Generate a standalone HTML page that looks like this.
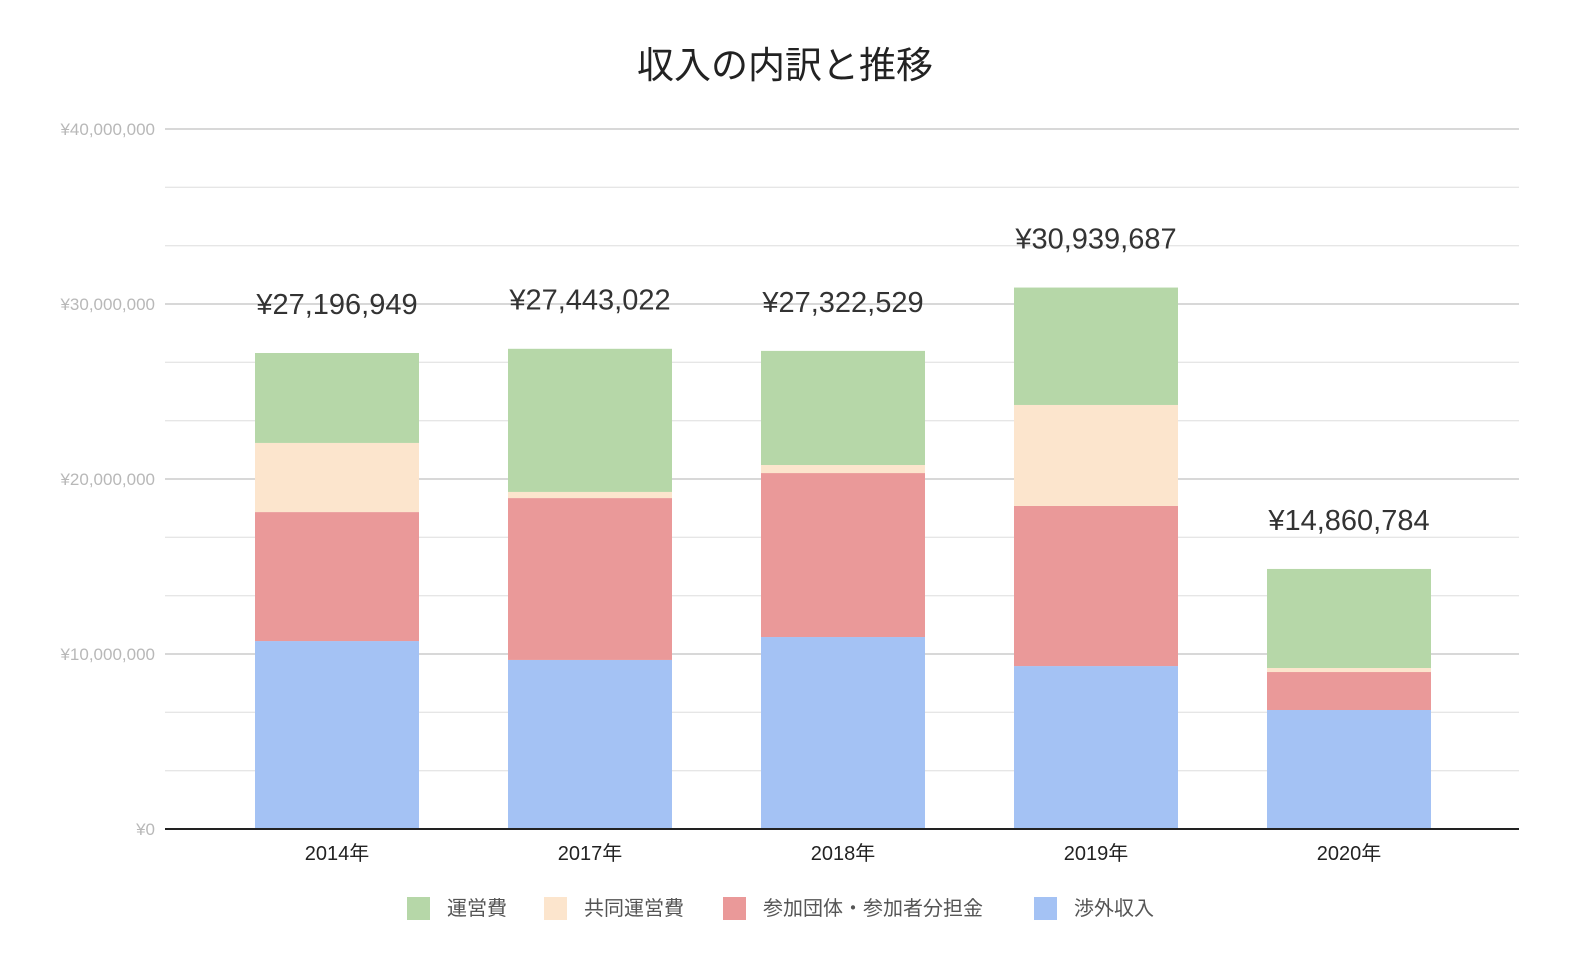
<!DOCTYPE html>
<html><head><meta charset="utf-8">
<style>
body{margin:0;background:#fff;}
svg{display:block;font-family:"Liberation Sans","Noto Sans CJK JP",sans-serif;}
</style></head>
<body>
<svg id="chart" width="1586" height="980" viewBox="0 0 1586 980">
<text x="785" y="78" font-size="37" text-anchor="middle" fill="#222">収入の内訳と推移</text>
<g id="grid"></g><g id="bars"></g><g id="labels"></g>
<g id="legend"></g>
</svg>
<script>
const categories=["2014年","2017年","2018年","2019年","2020年"];
const seriesNames=["運営費","共同運営費","参加団体・参加者分担金","渉外収入"];
const blue=[10.74,9.66,10.97,9.31,6.80];
const red=[7.37,9.25,9.37,9.15,2.17];
const peach=[3.95,0.35,0.46,5.77,0.23];
const green=[5.14,8.18,6.52,6.71,5.66];
const totals=[27196949,27443022,27322529,30939687,14860784];
const yTicks=[0,10,20,30,40];
const yTickLabels=["¥0","¥10,000,000","¥20,000,000","¥30,000,000","¥40,000,000"];

const NS="http://www.w3.org/2000/svg";
const x0=165,x1=1519,y0=829,y40=129;
const y=v=>y0-(v/40)*(y0-y40);
const inner0=210.5,band=253;
const cx=i=>inner0+band*(i+0.5);
const bw=164;
function mk(tag,attrs,parent,text){const e=document.createElementNS(NS,tag);for(const k in attrs)e.setAttribute(k,attrs[k]);if(text!==undefined)e.textContent=text;parent.appendChild(e);return e;}
const grid=document.getElementById('grid');
for(let k=0;k<12;k++){
  const v=k*10/3;
  if(k%3===0)continue;
  const l=mk('line',{x1:x0,x2:x1,y1:y(v),y2:y(v),stroke:'#e6e6e6','stroke-width':1.3},grid);
  
  
}
yTicks.forEach((t,i)=>{
  if(t>0){const l=mk('line',{x1:x0,x2:x1,y1:y(t),y2:y(t),stroke:'#ccc','stroke-width':1.5},grid);
  
  }
  const tx=mk('text',{x:155,y:y(t)+6,'font-size':17,'text-anchor':'end',fill:'#b8b8b8'},grid,yTickLabels[i]);
  
  
});
const bars=document.getElementById('bars');
const series=[blue,red,peach,green];
const colors=["#a4c2f4","#ea9999","#fce5cd","#b6d7a8"];
const names=["bar-overseas","bar-member-share","bar-joint-ops","bar-ops"];
categories.forEach((c,i)=>{
  let base=0;
  series.forEach((s,j)=>{
    const r=mk('rect',{x:cx(i)-bw/2,y:y(base+s[i]),width:bw,height:y(base)-y(base+s[i]),fill:colors[j]},bars);
    
    
    base+=s[i];
  });
  const t=mk('text',{x:cx(i),y:y(totals[i]/1e6)-39,'font-size':29,'text-anchor':'middle',fill:'#333'},bars,'¥'+totals[i].toLocaleString('en-US'));
  
  
  const xl=mk('text',{x:cx(i),y:860,'font-size':20,'text-anchor':'middle',fill:'#222'},bars,c);
  
  
});
const ax=mk('line',{x1:x0,x2:x1,y1:y0,y2:y0,stroke:'#222','stroke-width':2},bars);


const lg=document.getElementById('legend');
const legColors=["#b6d7a8","#fce5cd","#ea9999","#a4c2f4"];
const legX=[407,544,723,1034];
seriesNames.forEach((n,i)=>{
  const r=mk('rect',{x:legX[i],y:897,width:23,height:23,fill:legColors[i]},lg);
  
  
  const t=mk('text',{x:legX[i]+40,y:915,'font-size':20,fill:'#555'},lg,n);
  
  
});
</script>
</body></html>
